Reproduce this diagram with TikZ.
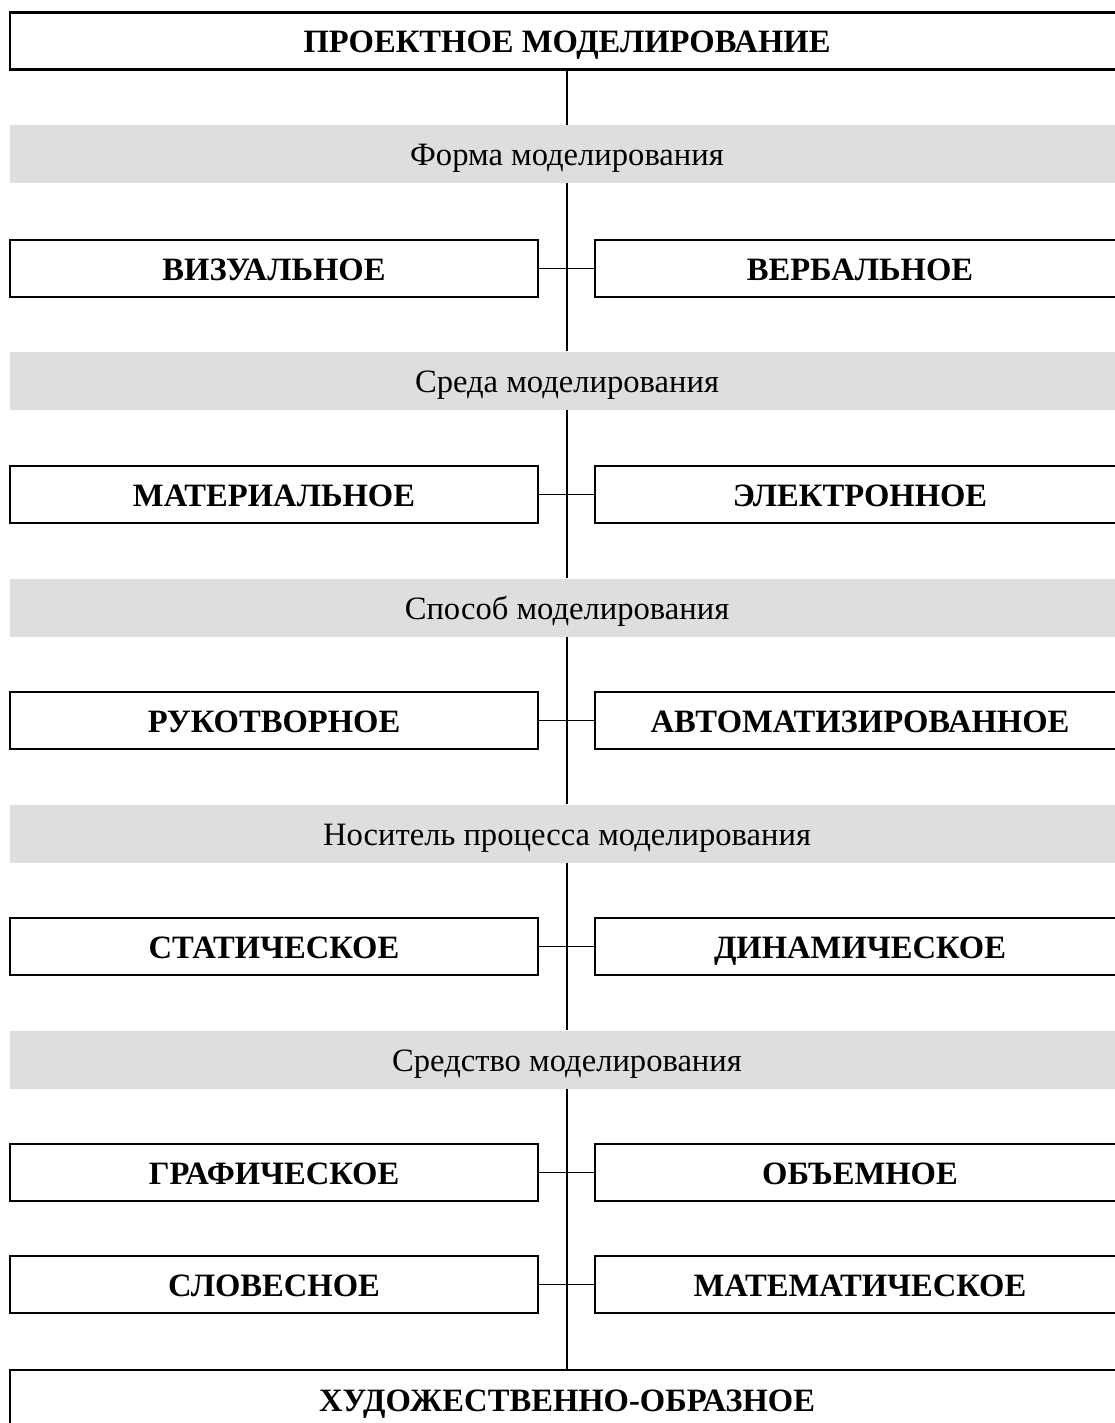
\documentclass[tikz,border=0pt]{standalone}
\usepackage{fontspec}
\setmainfont{Liberation Serif}

\begin{document}
\begin{tikzpicture}[x=0.5pt,y=-0.5pt,
					box/.append style={draw,line width=1.3pt,minimum height=28.5pt,inner sep=0pt,text height=11.8pt,text depth=0pt,font=\fontsize{16.3}{19}\selectfont\bfseries},
					lbox/.append style={box,minimum width=264pt},
					rbox/.append style={box,minimum width=265pt},
					band/.append style={fill=black!13,minimum width=557pt,minimum height=29pt,inner sep=0pt,text height=11.8pt,text depth=0pt,font=\fontsize{16.3}{19}\selectfont},
					ln/.append style={line width=.8pt}]
\useasboundingbox (0,0) rectangle (1114,1423);
\node[box,minimum width=557pt] (top) at (567,41) {ПРОЕКТНОЕ МОДЕЛИРОВАНИЕ};
\node[band] (f1) at (567,154) {Форма моделирования};
\node[lbox] (l1) at (274,268.5) {ВИЗУАЛЬНОЕ};
\node[rbox] (r1) at (860,268.5) {ВЕРБАЛЬНОЕ};
\node[band] (f2) at (567,380.5) {Среда моделирования};
\node[lbox] (l2) at (274,494.5) {МАТЕРИАЛЬНОЕ};
\node[rbox] (r2) at (860,494.5) {ЭЛЕКТРОННОЕ};
\node[band] (f3) at (567,607.5) {Способ моделирования};
\node[lbox] (l3) at (274,720.5) {РУКОТВОРНОЕ};
\node[rbox] (r3) at (860,720.5) {АВТОМАТИЗИРОВАННОЕ};
\node[band] (f4) at (567,833.5) {Носитель процесса моделирования};
\node[lbox] (l4) at (274,946.5) {СТАТИЧЕСКОЕ};
\node[rbox] (r4) at (860,946.5) {ДИНАМИЧЕСКОЕ};
\node[band] (f5) at (567,1059.5) {Средство моделирования};
\node[lbox] (l5) at (274,1172.5) {ГРАФИЧЕСКОЕ};
\node[rbox] (r5) at (860,1172.5) {ОБЪЕМНОЕ};
\node[lbox] (l6) at (274,1284.5) {СЛОВЕСНОЕ};
\node[rbox] (r6) at (860,1284.5) {МАТЕМАТИЧЕСКОЕ};
\node[box,minimum width=557pt,minimum height=30pt] (bot) at (567,1400) {ХУДОЖЕСТВЕННО-ОБРАЗНОЕ};
\draw[ln] (top) -- (f1);
\draw[ln] (f1) -- (f2);
\draw[ln] (f2) -- (f3);
\draw[ln] (f3) -- (f4);
\draw[ln] (f4) -- (f5);
\draw[ln] (f5) -- (bot);
\foreach \i in {1,...,6}
	\draw[ln] (l\i) -- (r\i);
\end{tikzpicture}
\end{document}
